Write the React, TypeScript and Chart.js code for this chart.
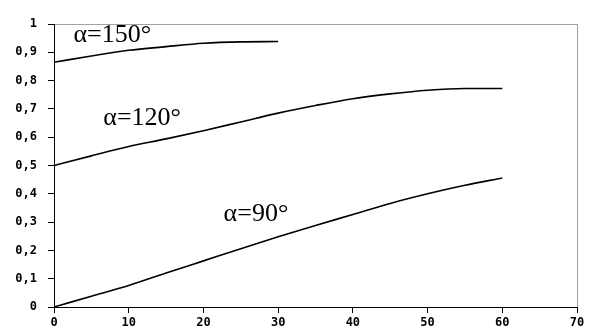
import React, { useEffect, useRef } from "react";
import { Chart, registerables } from "chart.js";

Chart.register(...registerables);

const xValues120 = [0, 5, 10, 15, 20, 25, 30, 35, 40, 45, 50, 55, 60];
const alpha120 = [0.5, 0.534, 0.567, 0.594, 0.623, 0.654, 0.685, 0.712, 0.736, 0.753, 0.766, 0.772, 0.772];
const xValues90 = [0, 5, 10, 15, 20, 25, 30, 35, 40, 45, 50, 55, 60];
const alpha90 = [0, 0.038, 0.076, 0.12, 0.163, 0.206, 0.248, 0.288, 0.327, 0.366, 0.4, 0.43, 0.456];
const xValues150 = [0, 5, 10, 15, 20, 25, 30];
const alpha150 = [0.865, 0.887, 0.907, 0.92, 0.932, 0.937, 0.938];

const seriesLabels = ["α=150°", "α=120°", "α=90°"];
// label anchors in data units (left x, baseline y)
const labelX = [2.6, 6.6, 22.7];
const labelY = [0.936, 0.642, 0.303];

const xTickLabels = ["0", "10", "20", "30", "40", "50", "60", "70"];
const yTickLabels = ["0", "0,1", "0,2", "0,3", "0,4", "0,5", "0,6", "0,7", "0,8", "0,9", "1"];

const toPts = (xs: number[], ys: number[]) => xs.map((x, i) => ({ x, y: ys[i] }));

const labelPlugin = {
  id: "curveLabels",
  afterDatasetsDraw(chart: any) {
    const { ctx, scales } = chart;
    ctx.save();
    ctx.fillStyle = "#000";
    ctx.font = "26px 'Liberation Serif'";
    ctx.textAlign = "left";
    ctx.textBaseline = "alphabetic";
    seriesLabels.forEach((t, i) => {
      ctx.fillText(t, scales.x.getPixelForValue(labelX[i]), scales.y.getPixelForValue(labelY[i]));
    });
    ctx.restore();
  },
};

export default function App() {
  const ref = useRef<HTMLCanvasElement>(null);
  useEffect(() => {
    document.body.style.margin = "0";
    const tickFont = { family: "'DejaVu Sans Mono'", size: 12, weight: "bold" as const };
    const mk = (xs: number[], ys: number[]) => ({
      data: toPts(xs, ys),
      borderColor: "#000",
      borderWidth: 1.6,
      pointRadius: 0,
      cubicInterpolationMode: "monotone" as const,
      fill: false,
    });
    const chart = new Chart(ref.current!, {
      type: "line",
      data: {
        datasets: [mk(xValues150, alpha150), mk(xValues120, alpha120), mk(xValues90, alpha90)],
      },
      options: {
        animation: false,
        responsive: false,
        events: [],
        layout: { padding: { left: 0, right: 25, top: 24, bottom: 0 } },
        plugins: { legend: { display: false }, tooltip: { enabled: false } },
        scales: {
          x: {
            type: "linear",
            min: 0,
            max: 70,
            afterFit: (s: any) => { s.height = 23; },
            afterBuildTicks: (s: any) => { s.ticks = xTickLabels.map((l) => ({ value: Number(l) })); },
            ticks: {
              color: "#000",
              font: tickFont,
              padding: 3,
              maxRotation: 0,
              callback: (_v: any, i: number) => xTickLabels[i],
            },
            grid: {
              drawOnChartArea: true,
              tickLength: 6,
              tickColor: "#000",
              color: (c: any) => (c.tick && c.tick.value === 70 ? "#a0a0a0" : "rgba(0,0,0,0)"),
            },
            border: { color: "#000", width: 1 },
          },
          y: {
            type: "linear",
            min: 0,
            max: 1,
            afterFit: (s: any) => { s.width = 54; },
            afterBuildTicks: (s: any) => { s.ticks = yTickLabels.map((_l, i) => ({ value: i / 10 })); },
            ticks: {
              color: "#000",
              font: tickFont,
              padding: 11,
              callback: (_v: any, i: number) => yTickLabels[i],
            },
            grid: {
              drawOnChartArea: true,
              tickLength: 6,
              tickColor: "#000",
              color: (c: any) => (c.tick && c.tick.value === 1 ? "#a0a0a0" : "rgba(0,0,0,0)"),
            },
            border: { color: "#000", width: 1 },
          },
        },
      },
      plugins: [labelPlugin],
    });
    return () => chart.destroy();
  }, []);
  return <canvas ref={ref} width={602} height={330} style={{ display: "block" }} />;
}
